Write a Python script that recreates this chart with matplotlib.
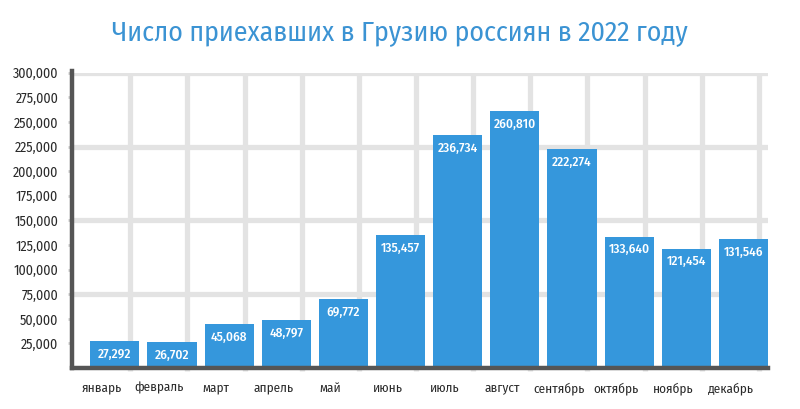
import matplotlib.pyplot as plt
from matplotlib.transforms import ScaledTranslation

# Данные
months = ['январь', 'февраль', 'март', 'апрель', 'май', 'июнь',
          'июль', 'август', 'сентябрь', 'октябрь', 'ноябрь', 'декабрь']
arrivals = [27292, 26702, 45068, 48797, 69772, 135457,
            236734, 260810, 222274, 133640, 121454, 131546]
y_ticks = list(range(25000, 300001, 25000))
grid_levels = [75000, 150000, 225000, 300000]

fam = ['Fira Sans Condensed', 'DejaVu Sans']
blue = '#3597dc'
grid_c = '#e3e3e3'
spine_c = '#555555'

fig = plt.figure(figsize=(8, 4.09), dpi=100)
ax = fig.add_axes([0.09, 0.10, 0.87, 0.722])

x = list(range(len(months)))

# сетка
for g in grid_levels:
    ax.axhline(g, color=grid_c, lw=3.8, zorder=0)
for i in x:
    ax.plot([i + 0.27, i + 0.27], [-3000, 300000], color=grid_c, lw=3.8,
            zorder=0, clip_on=False, solid_capstyle='butt')

ax.bar(x, arrivals, width=0.86, color=blue, zorder=2)

for i, v in zip(x, arrivals):
    ax.text(i, v - 13500, f'{v:,}', ha='center', va='center', color='white',
            fontsize=9.5, fontweight='medium', family=fam, zorder=3)

ax.set_xlim(-0.75, 11.43)
ax.set_ylim(0, 300000)
ax.set_yticks(y_ticks)
ax.set_yticklabels([f'{t:,}' for t in y_ticks], family=fam, fontsize=10, color='#2a2a2a')
ax.set_xticks(x)
ax.set_xticklabels(months, family=fam, fontsize=9.5, color='#2a2a2a')
ax.tick_params(axis='y', length=3, width=2, color='#cccccc', pad=7)
ax.tick_params(axis='x', length=0, pad=10)

# подписи месяцев чуть левее центра столбца, как в оригинале
shift = ScaledTranslation(-0.13, 0, fig.dpi_scale_trans)
for lbl in ax.get_xticklabels():
    lbl.set_transform(lbl.get_transform() + shift)

for s in ['top', 'right']:
    ax.spines[s].set_visible(False)
for s in ['left', 'bottom']:
    ax.spines[s].set_color(spine_c)
    ax.spines[s].set_linewidth(3.2)
ax.spines['left'].set_bounds(0, 302000)

fig.text(0.5, 0.92, 'Число приехавших в Грузию россиян в 2022 году', ha='center',
         va='center', color='#3b93d3', fontsize=20, family=fam)

plt.savefig('out.png', dpi=100)
